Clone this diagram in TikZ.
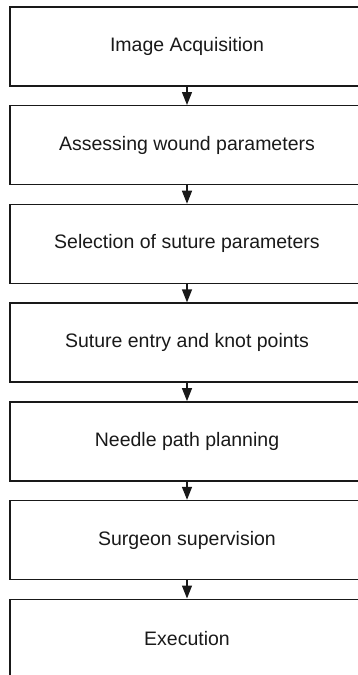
\documentclass[tikz,border=0pt]{standalone}
\usepackage{fontspec}
\setmainfont{Liberation Sans}
\usetikzlibrary{arrows.meta}
\begin{document}
\begin{tikzpicture}[x=1pt,y=-1pt,
  stepbox/.style={draw=black!90,line width=1.4pt,minimum width=354pt,minimum height=79pt,inner sep=0pt,font=\fontsize{19.5}{23}\selectfont,text=black!90},
  arr/.style={draw=black!90,line width=1.3pt,-{Triangle[length=13pt,width=10pt]}}]
\useasboundingbox (0,0) rectangle (358,675);
\clip (0,0) rectangle (358,675);
\node[stepbox] (b1) at (187,46.5) {Image Acquisition};
\node[stepbox] (b2) at (187,145.2) {Assessing wound parameters};
\node[stepbox] (b3) at (187,243.9) {Selection of suture parameters};
\node[stepbox] (b4) at (187,342.6) {Suture entry and knot points};
\node[stepbox] (b5) at (187,441.3) {Needle path planning};
\node[stepbox] (b6) at (187,540.0) {Surgeon supervision};
\node[stepbox] (b7) at (187,638.7) {Execution};
\draw[arr] (b1.south) -- (b2.north);
\draw[arr] (b2.south) -- (b3.north);
\draw[arr] (b3.south) -- (b4.north);
\draw[arr] (b4.south) -- (b5.north);
\draw[arr] (b5.south) -- (b6.north);
\draw[arr] (b6.south) -- (b7.north);
\end{tikzpicture}
\end{document}
